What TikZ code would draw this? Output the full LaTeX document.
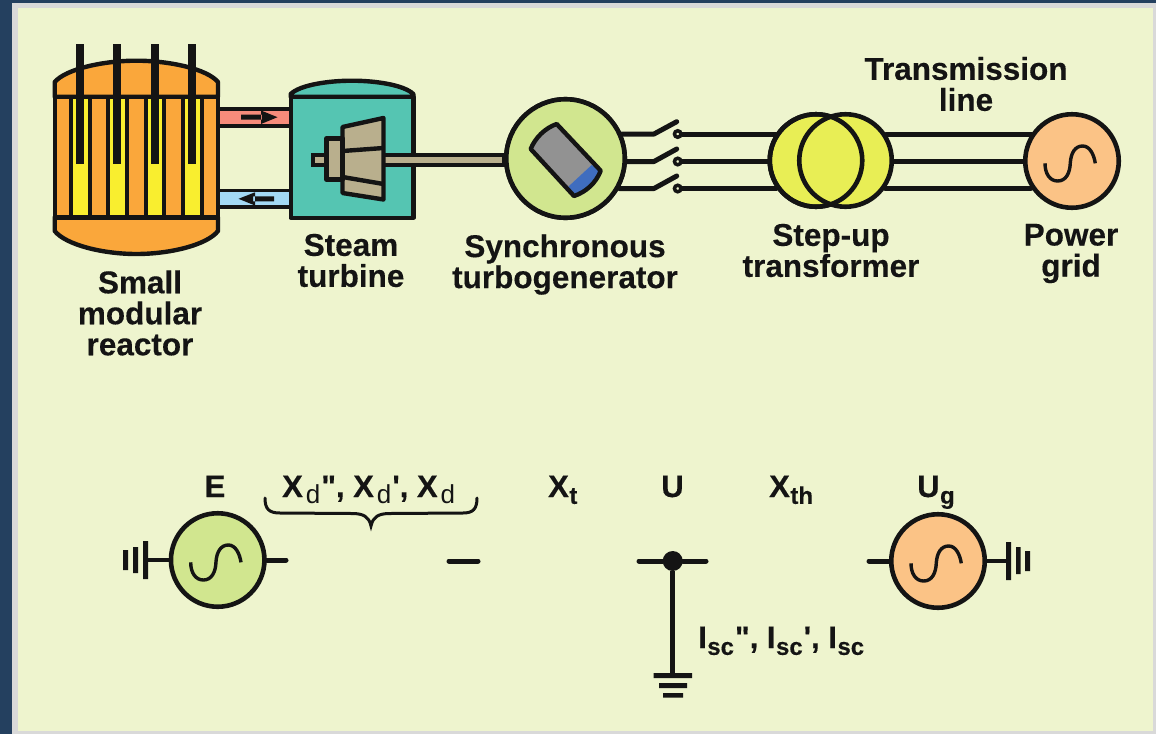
\documentclass[tikz,border=0pt]{standalone}
\usepackage{fontspec}
\setmainfont{Liberation Sans}
\newfontfamily\labf{Liberation Sans}[BoldFeatures={FakeBold=0.35}]
\definecolor{inkc}{HTML}{141414}
\definecolor{navy}{HTML}{24405F}
\definecolor{frame}{HTML}{D9D9D9}
\definecolor{panel}{HTML}{EEF4CE}
\definecolor{reactc}{HTML}{FAA73B}
\definecolor{fuelc}{HTML}{F9EE2F}
\definecolor{tealc}{HTML}{55C5B2}
\definecolor{tanc}{HTML}{B9AF8D}
\definecolor{hotc}{HTML}{F68B7B}
\definecolor{coldc}{HTML}{A3D9F5}
\definecolor{genc}{HTML}{D1E68F}
\definecolor{gridc}{HTML}{FBC386}
\definecolor{xfmrc}{HTML}{E8EE55}
\definecolor{rotorc}{HTML}{929292}
\definecolor{bluec}{HTML}{3F6DBF}
\newcommand{\sbs}[1]{\kern0.5pt\raisebox{-0.22em}{\fontsize{24}{24}\selectfont #1}}
\newcommand{\sbr}[1]{\kern3pt\raisebox{-0.22em}{\fontsize{26}{26}\selectfont\mdseries #1}}
\newcommand{\dq}{\kern1pt\symbol{34}}
\newcommand{\sq}{\kern1pt\symbol{39}}
\tikzset{
  ink/.style={draw=inkc,line width=4.4pt,line join=round},
  thinink/.style={draw=inkc,line width=3.7pt,line join=round},
  wire/.style={draw=inkc,line width=5pt,line cap=round,line join=round},
  roundsym/.style={circle,draw=inkc,line width=4.6pt,inner sep=0pt,minimum size=#1},
  term/.style={circle,draw=inkc,fill=panel,line width=3.5pt,inner sep=0pt,minimum size=6.5pt},
  biglabel/.style={font=\labf\fontsize{31.5}{31}\selectfont\bfseries,text=inkc,align=center,inner sep=0pt},
  symlabel/.style={font=\labf\fontsize{31}{31}\selectfont\bfseries,text=inkc,inner sep=0pt},
  sinewave/.pic={\draw[draw=inkc,line width=3.4pt]
    (-27,2.3) .. controls (-27,13) and (-22,20) .. (-14.3,20)
    .. controls (-6,20) and (-2,12) .. (-1.7,1.7)
    .. controls (-1,-8) and (3,-15) .. (10.7,-15)
    .. controls (18,-15) and (22,-6) .. (23.3,2.3);}
}
\begin{document}
\begin{tikzpicture}[x=1pt,y=-1pt]
\useasboundingbox (0,0) rectangle (1156,734);
\fill[navy] (0,0) rectangle (1156,734);
\fill[frame] (12,3) rectangle (1156,734);
\fill[panel] (18,8) rectangle (1153,730.5);
% coolant pipes
\fill[hotc] (218,108.7) rectangle (291,125.7);
\draw[thinink] (218,108.7) -- (291,108.7) (218,125.7) -- (291,125.7);
\fill[coldc] (218,190.6) rectangle (291,207);
\draw[thinink] (218,190.6) -- (291,190.6) (218,207) -- (291,207);
\fill[inkc] (241,114.7) rectangle (262,119.7) (261,110.5) -- (277.5,117.2) -- (261,124) -- cycle;
\fill[inkc] (274,196.3) rectangle (253,201.3) (255,192.3) -- (238.5,198.8) -- (255,205.5) -- cycle;
% reactor
\draw[ink,fill=reactc] (54.7,96.7) -- (54.7,82) .. controls (66,69) and (103,60.7) .. (136.3,60.7) .. controls (170,60.7) and (207,69) .. (218,82) -- (218,96.7) -- cycle;
\draw[ink,fill=reactc] (54.7,217.3) -- (54.7,231) .. controls (66,245) and (103,254) .. (136.3,254) .. controls (170,254) and (207,245) .. (218,231) -- (218,217.3) -- cycle;
\draw[ink,fill=reactc] (54.7,96.7) rectangle (218,217.3);
\foreach \a/\b in {70.7/90,108.3/127.3,145.7/164.3,183/202}{
  \draw[thinink,fill=fuelc] (\a,96.7) rectangle (\b,217.3);
}
\foreach \c in {80,117,155,192}{
  \fill[inkc] (\c-4.2,44) rectangle (\c+4.2,164);
}
% turbine
\draw[ink,fill=tealc] (290.7,96.7) -- (290.7,94) .. controls (300,85) and (328,80.7) .. (352,80.7) .. controls (376,80.7) and (404,85) .. (413.3,94) -- (413.3,96.7) -- cycle;
\draw[ink,fill=tealc] (290.7,96.7) rectangle (413.3,217.7);
\node[roundsym=118.5pt,fill=genc] (G) at (565.5,158.5) {};
\draw[draw=inkc,fill=tanc,line width=4pt] (312.5,155) rectangle (G.180 |- 0,165);
\draw[ink,fill=tanc] (342.5,127) -- (383.5,118) -- (383.5,199.5) -- (342.5,193) -- cycle;
\draw[ink,fill=tanc] (326.5,138.5) rectangle (342.5,179.5);
\draw[ink] (342.5,151) -- (383.5,148) (342.5,177) -- (383.5,184);
% generator (drawn again over the shaft end)
\node[roundsym=118.5pt,fill=genc] (Gtop) at (G) {};
\fill[rotorc] (530.7,149) .. controls (535,138) and (545,128) .. (556.7,124) -- (600.7,170.7) .. controls (596,183) and (586,192) .. (574,196) -- cycle;
\fill[bluec] (591.7,165) -- (600.7,170.7) .. controls (596,183) and (586,192) .. (574,196) -- (568.3,186.7) -- cycle;
\draw[ink] (530.7,149) .. controls (535,138) and (545,128) .. (556.7,124) -- (600.7,170.7) .. controls (596,183) and (586,192) .. (574,196) -- cycle;
% transformer and grid
\node[roundsym=92.5pt,fill=xfmrc] (TL) at (816,160.5) {};
\node[roundsym=92.5pt,fill=xfmrc] (TR) at (845.5,160.5) {};
\node[roundsym=92.5pt] (TLo) at (TL) {};
\node[roundsym=93.5pt,fill=gridc] (P) at (1072,161) {};
\pic at (P) {sinewave};
% switches
\coordinate (a1) at (654,134); \coordinate (b1) at (676.7,121.7);
\coordinate (a2) at (654,161.5); \coordinate (b2) at (676.7,149);
\coordinate (a3) at (654,188.5); \coordinate (b3) at (676.7,176);
\node[term] (c1) at (677.7,134) {};
\node[term] (c2) at (677.7,161.5) {};
\node[term] (c3) at (677.7,188.5) {};
\draw[wire] (G.24 |- a1) -- (a1) -- (b1);
\draw[wire] (G.-2 |- a2) -- (a2) -- (b2);
\draw[wire] (G.-29 |- a3) -- (a3) -- (b3);
\draw[wire] (c1) -- (TL.147 |- c1);
\draw[wire] (c2) -- (TL.180 |- c2);
\draw[wire] (c3) -- (TL.215 |- c3);
\draw[wire] (TR.33 |- c1) -- (P.146.6 |- c1);
\draw[wire] (TR.0 |- c2) -- (P.180 |- c2);
\draw[wire] (TR.-35 |- c3) -- (P.213.4 |- c3);
% top labels
\node[biglabel] (lreact) at (140,313) {Small\\modular\\reactor};
\node[biglabel] (lturb) at (351,260.5) {Steam\\turbine};
\node[biglabel] (lgen) at (565,264.5) {Synchronous\\turbogenerator};
\node[biglabel] (lxf) at (831,250.5) {Step-up\\transformer};
\node[biglabel] (lgrid) at (1071,253.5) {Power\\grid};
\node[biglabel] (lline) at (966,84) {Transmission\\line};
% equivalent circuit
\node[roundsym=93.5pt,fill=genc] (E) at (217.7,560) {};
\pic at (E) {sinewave};
\node[roundsym=93.5pt,fill=gridc] (Ug) at (938,561) {};
\pic at (Ug) {sinewave};
\coordinate (e1) at (286,560); \coordinate (e0) at (145.7,560);
\draw[wire] (E.0) -- (e1);
\draw[ink] (E.180) -- (e0);
\fill[inkc] (143,541) rectangle (148,579) (133,547) rectangle (138,573) (123,550) rectangle (128,570);
\coordinate (d1) at (449,561); \coordinate (d2) at (478,561);
\draw[wire] (d1) -- (d2);
\node[circle,fill=inkc,inner sep=0pt,minimum size=20pt] (U) at (672.7,561) {};
\coordinate (u1) at (639,561); \coordinate (u2) at (706,561); \coordinate (gnd) at (672.7,675);
\draw[wire] (u1) -- (U) -- (u2);
\draw[draw=inkc,line width=4.6pt] (U) -- (gnd);
\fill[inkc] (653.5,673) rectangle (692,678) (659,683) rectangle (687,688) (663,693) rectangle (683,697.5);
\coordinate (g1) at (869,561); \coordinate (g2) at (1008,561);
\draw[wire] (g1) -- (Ug.180);
\draw[ink] (Ug.0) -- (g2);
\fill[inkc] (1006,542) rectangle (1011,580) (1016,547) rectangle (1020.5,574) (1025,551) rectangle (1030,571);
% brace
\draw[draw=inkc,line width=3pt,line cap=round] (265,498) .. controls (265,509) and (269,513) .. (280,513) -- (352,513.5) .. controls (364,513.5) and (369,517) .. (371,526) .. controls (373,517) and (378,513.5) .. (390,513.5) -- (463,513) .. controls (473,513) and (477,509) .. (477,498);
% circuit labels
\node[symlabel,anchor=base] (lE) at (215,497) {E};
\node[symlabel,anchor=base west] (lXd) at (282,497) {X\sbr{d}\dq, X\sbr{d}\sq, X\sbr{d}};
\node[symlabel,anchor=base west] (lXt) at (548,497) {X\sbs{t}};
\node[symlabel,anchor=base] (lU) at (672.5,497) {U};
\node[symlabel,anchor=base west] (lXth) at (769,497) {X\sbs{th}};
\node[symlabel,anchor=base west] (lUg) at (917,497) {U\sbs{g}};
\node[symlabel,anchor=base west] (lI) at (698,648) {I\sbs{sc}\dq, I\sbs{sc}\sq, I\sbs{sc}};
\end{tikzpicture}
\end{document}
